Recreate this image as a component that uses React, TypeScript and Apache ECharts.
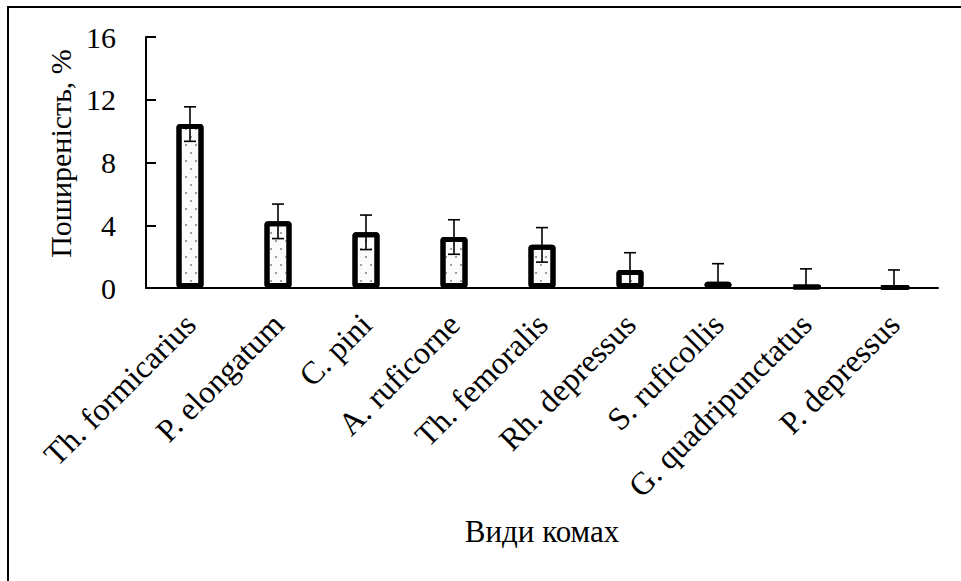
import React, { useEffect, useRef } from "react";
import * as echarts from "echarts";

const categories = [
  "Th. formicarius",
  "P. elongatum",
  "C. pini",
  "A. ruficorne",
  "Th. femoralis",
  "Rh. depressus",
  "S. ruficollis",
  "G. quadripunctatus",
  "P. depressus",
];
const prevalence = [10.45, 4.25, 3.55, 3.25, 2.75, 1.15, 0.4, 0.12, 0.05];
const errors = [1.1, 1.1, 1.1, 1.1, 1.1, 1.1, 1.15, 1.1, 1.1];
const yTicks = [0, 4, 8, 12, 16];

export default function App() {
  const ref = useRef<HTMLDivElement>(null);
  useEffect(() => {
    document.body.style.margin = "0";
    if (!ref.current) return;
    const chart = echarts.init(ref.current, null, { renderer: "svg" });
    const font = "'Liberation Serif', 'Times New Roman', serif";
    const errData = prevalence.map((v, i) => [i, Math.max(0, v - errors[i]), v + errors[i]]);
    chart.setOption({
      animation: false,
      backgroundColor: "#fff",
      grid: { left: 146, right: 23, top: 37, bottom: 293 },
      xAxis: {
        type: "category",
        data: categories,
        name: "Види комах",
        nameLocation: "middle",
        nameGap: 228,
        nameTextStyle: { fontFamily: font, fontSize: 31, color: "#000" },
        axisLine: { lineStyle: { color: "#000", width: 2 } },
        axisTick: { inside: true, length: 9, lineStyle: { color: "#000", width: 2 } },
        axisLabel: {
          rotate: 45,
          margin: 31,
          fontFamily: font,
          fontSize: 32,
          color: "#000",
          interval: 0,
        },
      },
      yAxis: {
        type: "value",
        min: yTicks[0],
        max: yTicks[yTicks.length - 1],
        interval: 4,
        name: "Поширеність, %",
        nameLocation: "middle",
        nameGap: 70,
        nameTextStyle: { fontFamily: font, fontSize: 30, color: "#000", padding: [0, 0, 0, 18] },
        splitLine: { show: false },
        axisLine: { show: true, lineStyle: { color: "#000", width: 2 } },
        axisTick: { show: true, inside: true, length: 10, lineStyle: { color: "#000", width: 2 } },
        axisLabel: { margin: 30, fontFamily: font, fontSize: 30, color: "#000" },
      },
      series: [
        {
          type: "bar",
          data: prevalence,
          barWidth: 27,
          itemStyle: {
            color: "#fbfbfb",
            borderColor: "#000",
            borderWidth: 5,
            borderJoin: "round",
            borderRadius: 1,
            decal: {
              symbol: "circle",
              symbolSize: 0.9,
              color: "rgba(80,80,80,0.75)",
              dashArrayX: [[2, 8], [0, 5, 2, 3]],
              dashArrayY: [2, 6],
            },
          },
          z: 2,
        },
        {
          type: "custom",
          data: errData,
          z: 5,
          encode: { x: 0, y: [1, 2] },
          renderItem: (params: any, api: any) => {
            const i = api.value(0);
            const lo = api.coord([i, api.value(1)]);
            const hi = api.coord([i, api.value(2)]);
            const hw = 6;
            const style = { stroke: "#000", lineWidth: 1.6 };
            return {
              type: "group",
              children: [
                { type: "line", shape: { x1: hi[0], y1: hi[1], x2: lo[0], y2: lo[1] }, style },
                { type: "line", shape: { x1: hi[0] - hw, y1: hi[1], x2: hi[0] + hw, y2: hi[1] }, style },
                { type: "line", shape: { x1: lo[0] - hw, y1: lo[1], x2: lo[0] + hw, y2: lo[1] }, style },
              ],
            };
          },
        },
      ],
      graphic: [
        {
          type: "rect",
          shape: { x: 8, y: 7, width: 1200, height: 1200 },
          style: { fill: "none", stroke: "#000", lineWidth: 2 },
          silent: true,
        },
      ],
    });
    return () => chart.dispose();
  }, []);
  return <div ref={ref} style={{ width: 961, height: 581 }} />;
}
